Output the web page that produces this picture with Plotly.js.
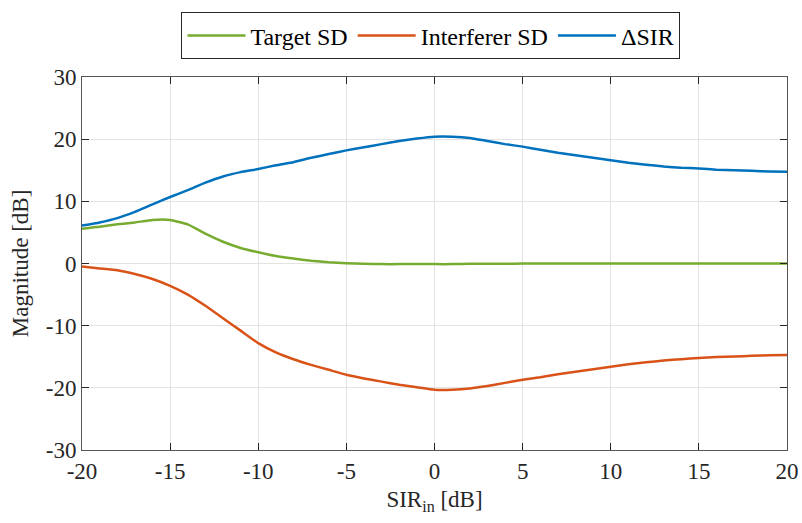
<!DOCTYPE html>
<html>
<head>
<meta charset="utf-8">
<script src="https://cdn.plot.ly/plotly-3.0.1.min.js"></script>
<style>
  html, body { margin: 0; padding: 0; background: #ffffff; }
  #chart { width: 802px; height: 523px; }
</style>
</head>
<body>
<div id="chart"></div>
<script>
// Input SIR sweep in dB
const sirIn = [-20, -19, -18, -17, -16, -15, -14, -13, -12, -11, -10, -9, -8, -7, -6, -5, -4, -3, -2, -1,
  0, 1, 2, 3, 4, 5, 6, 7, 8, 9, 10, 11, 12, 13, 14, 15, 16, 17, 18, 19, 20];

// Target speech distortion [dB]
const targetSD = [5.6, 5.9, 6.3, 6.6, 7.0, 7.0, 6.3, 4.8, 3.5, 2.5, 1.8, 1.2, 0.8, 0.45, 0.2, 0.05, -0.05, -0.1, -0.1, -0.1,
  -0.1, -0.1, -0.05, -0.05, -0.05, 0.0, 0.0, 0.0, 0.0, 0.0, 0.0, 0.0, 0.0, 0.0, 0.0, 0.0, 0.0, 0.0, 0.0, 0.0, 0.0];

// Interferer speech distortion [dB]
const interfererSD = [-0.5, -0.8, -1.1, -1.7, -2.5, -3.6, -5.0, -6.8, -8.8, -10.8, -12.8, -14.3, -15.4, -16.3, -17.1, -17.9, -18.5, -19.0, -19.5, -19.9,
  -20.3, -20.3, -20.1, -19.7, -19.2, -18.7, -18.3, -17.8, -17.4, -17.0, -16.6, -16.2, -15.9, -15.6, -15.4, -15.2, -15.05, -14.95, -14.85, -14.75, -14.7];

// SIR improvement [dB]
const deltaSIR = [6.1, 6.6, 7.3, 8.3, 9.5, 10.7, 11.8, 13.0, 14.0, 14.7, 15.2, 15.8, 16.3, 17.0, 17.6, 18.2, 18.7, 19.2, 19.7, 20.1,
  20.4, 20.4, 20.2, 19.7, 19.2, 18.8, 18.3, 17.8, 17.4, 17.0, 16.6, 16.2, 15.9, 15.6, 15.4, 15.3, 15.1, 15.0, 14.9, 14.8, 14.75];

// Axis ticks
const xTickVals = [-20, -15, -10, -5, 0, 5, 10, 15, 20];
const xTickText = ['-20', '-15', '-10', '-5', '0', '5', '10', '15', '20'];
const yTickVals = [-30, -20, -10, 0, 10, 20, 30];
const yTickText = ['-30', '-20', '-10', '0', '10', '20', '30'];

const serif = 'Liberation Serif';
const axisColor = '#262626';
const lineShape = { shape: 'spline', smoothing: 0.4, width: 2.5 };

const traces = [
  { x: sirIn, y: targetSD, name: 'Target SD', mode: 'lines',
    line: Object.assign({ color: '#77AC30' }, lineShape) },
  { x: sirIn, y: interfererSD, name: 'Interferer SD', mode: 'lines',
    line: Object.assign({ color: '#D95319' }, lineShape) },
  { x: sirIn, y: deltaSIR, name: '\u0394SIR', mode: 'lines',
    line: Object.assign({ color: '#0072BD' }, lineShape) }
];

const axisCommon = {
  showline: true, linecolor: '#555555', linewidth: 1, mirror: 'ticks',
  ticks: 'inside', ticklen: 7, tickcolor: axisColor, tickwidth: 1,
  showgrid: true, gridcolor: '#e3e3e3', gridwidth: 1,
  zeroline: false, tickmode: 'array',
  tickfont: { family: serif, size: 23, color: axisColor }
};

const layout = {
  width: 802, height: 523,
  margin: { l: 82, r: 15, t: 75, b: 73 },
  paper_bgcolor: '#ffffff', plot_bgcolor: '#ffffff',
  font: { family: serif, size: 23, color: axisColor },
  showlegend: true,
  legend: {
    orientation: 'h', x: 0.495, xanchor: 'center', y: 1.173, yanchor: 'top',
    bordercolor: '#262626', borderwidth: 1, bgcolor: '#ffffff',
    font: { family: serif, size: 24, color: '#000000' },
    itemwidth: 58, tracegroupgap: 0
  },
  xaxis: Object.assign({}, axisCommon, {
    range: [-20, 20], tickvals: xTickVals, ticktext: xTickText,
    title: { text: 'SIR<sub>in</sub> [dB]', font: { family: serif, size: 23, color: axisColor }, standoff: 8 }
  }),
  yaxis: Object.assign({}, axisCommon, {
    range: [-30, 30], tickvals: yTickVals, ticktext: yTickText,
    title: { text: 'Magnitude [dB]', font: { family: serif, size: 23, color: axisColor }, standoff: 10 }
  })
};

Plotly.newPlot('chart', traces, layout, { displayModeBar: false, staticPlot: true });
</script>
</body>
</html>
